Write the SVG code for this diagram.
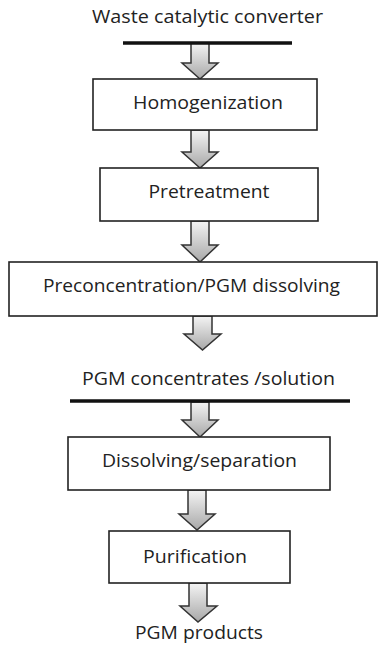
<svg xmlns="http://www.w3.org/2000/svg" width="380" height="650" viewBox="0 0 380 650">
<style>
text{font-family:"Open Sans","Liberation Sans",sans-serif;fill:#222;text-anchor:middle;font-size:18px}
.box{fill:#fff;stroke:#222;stroke-width:1.6}
.bar{stroke:#111;stroke-width:3.5}
.arr{fill:url(#g);stroke:#333;stroke-width:1.5;stroke-linejoin:miter}
</style>
<defs>
<linearGradient id="g" x1="0" y1="0" x2="0" y2="1">
<stop offset="0" stop-color="#f4f4f4"/>
<stop offset="1" stop-color="#a8a8a8"/>
</linearGradient>
</defs>
<g id="connectors">
<path class="arr" d="M191,43 H209 V63 H218 L200,79 L182,63 H191 Z"/>
<path class="arr" d="M191,130 H209 V152 H218 L200,168 L182,152 H191 Z"/>
<path class="arr" d="M191,221 H209 V245 H218 L200,262 L182,245 H191 Z"/>
<path class="arr" d="M193,316 H212 V334 H221 L202.5,350 L184,334 H193 Z"/>
<path class="arr" d="M191,402 H209 V420 H218 L200,437 L182,420 H191 Z"/>
<path class="arr" d="M188,490 H206 V514 H215 L197,530 L179,514 H188 Z"/>
<path class="arr" d="M189,583 H207 V606 H217 L198,622 L180,606 H189 Z"/>
</g>
<g id="start">
<text x="207.5" y="23" textLength="231" lengthAdjust="spacingAndGlyphs">Waste catalytic converter</text>
<line class="bar" x1="123" y1="43" x2="292" y2="43"/>
</g>
<g id="homogenization">
<rect class="box" x="93" y="79" width="224" height="51"/>
<text x="208" y="109" textLength="150" lengthAdjust="spacingAndGlyphs">Homogenization</text>
</g>
<g id="pretreatment">
<rect class="box" x="100" y="168" width="218" height="53"/>
<text x="209" y="198" textLength="121" lengthAdjust="spacingAndGlyphs">Pretreatment</text>
</g>
<g id="preconcentration">
<rect class="box" x="9" y="262" width="368" height="54"/>
<text x="191.5" y="292" textLength="297" lengthAdjust="spacingAndGlyphs">Preconcentration/PGM dissolving</text>
</g>
<g id="concentrates">
<text x="208.5" y="385" textLength="253" lengthAdjust="spacingAndGlyphs">PGM concentrates /solution</text>
<line class="bar" x1="70" y1="401" x2="350" y2="401"/>
</g>
<g id="dissolving">
<rect class="box" x="68" y="437" width="262" height="53"/>
<text x="199.5" y="467" textLength="195" lengthAdjust="spacingAndGlyphs">Dissolving/separation</text>
</g>
<g id="purification">
<rect class="box" x="109" y="531" width="181" height="52"/>
<text x="195" y="563" textLength="104" lengthAdjust="spacingAndGlyphs">Purification</text>
</g>
<g id="products">
<text x="199" y="639" textLength="128" lengthAdjust="spacingAndGlyphs">PGM products</text>
</g>
</svg>
